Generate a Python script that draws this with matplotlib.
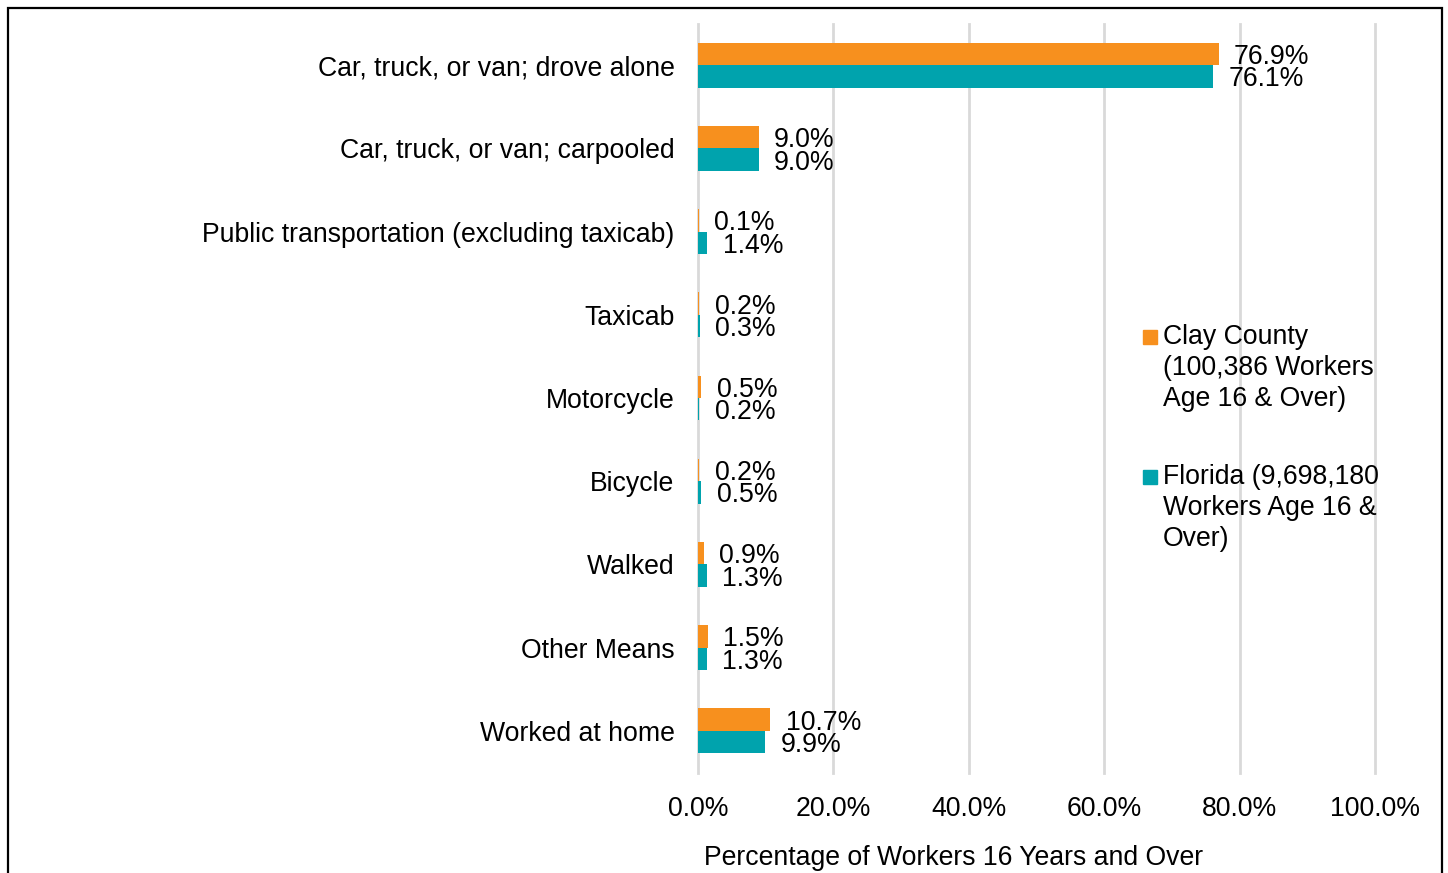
import matplotlib
matplotlib.use("Agg")
import matplotlib.pyplot as plt
from matplotlib.patches import Rectangle
import numpy as np

plt.rcParams['font.family'] = ['Liberation Sans', 'DejaVu Sans']

# ---- data ----
categories = ["Car, truck, or van; drove alone", "Car, truck, or van; carpooled",
              "Public transportation (excluding taxicab)", "Taxicab", "Motorcycle",
              "Bicycle", "Walked", "Other Means", "Worked at home"]
clay = [76.9, 9.0, 0.1, 0.2, 0.5, 0.2, 0.9, 1.5, 10.7]
florida = [76.1, 9.0, 1.4, 0.3, 0.2, 0.5, 1.3, 1.3, 9.9]
series_names = ["Clay County\n(100,386 Workers\nAge 16 & Over)",
                "Florida (9,698,180\nWorkers Age 16 &\nOver)"]
xticks = [0, 20, 40, 60, 80, 100]

ORANGE = "#F7901E"
TEAL = "#00A3AD"
FS = 19.2

W, H = 1448, 873
fig = plt.figure(figsize=(W / 100, H / 100), dpi=100)
ax = fig.add_axes([698 / W, 1 - 772.5 / H, (1375 - 698) / W, (772.5 - 23.5) / H])

y = np.arange(len(categories))
bh = 0.27
ax.barh(y - bh / 2, clay, height=bh, color=ORANGE, zorder=3)
ax.barh(y + bh / 2, florida, height=bh, color=TEAL, zorder=3)

for yi, v in zip(y, clay):
    ax.annotate("%.1f%%" % v, (v, yi - bh / 2), xytext=(11, 0), textcoords="offset points",
                va="center_baseline", ha="left", fontsize=FS)
for yi, v in zip(y, florida):
    ax.annotate("%.1f%%" % v, (v, yi + bh / 2), xytext=(11, 0), textcoords="offset points",
                va="center_baseline", ha="left", fontsize=FS)

ax.set_xlim(0, 100)
ax.set_ylim(len(categories) - 0.5, -0.5)
ax.set_yticks(y)
ax.set_yticklabels(categories, fontsize=FS)
ax.set_xticks(xticks)
ax.set_xticklabels(["%.1f%%" % t for t in xticks], fontsize=FS)
ax.tick_params(axis="both", length=0, pad=17)
ax.grid(axis="x", color="#D9D9D9", linewidth=2, zorder=0)
for gl in ax.xaxis.get_gridlines():
    gl.set_clip_on(False)
for s in ax.spines.values():
    s.set_visible(False)

fig.text(954 / W, 1 - 858 / H, "Percentage of Workers 16 Years and Over",
         ha="center", va="center", fontsize=FS)

# legend drawn by hand so the swatch sits at the first line
for i, (name, col) in enumerate(zip(series_names, [ORANGE, TEAL])):
    cy = [337, 477][i]
    fig.patches.append(Rectangle((1143 / W, 1 - (cy + 7) / H), 14 / W, 14 / H,
                                 transform=fig.transFigure, color=col))
    fig.text(1163 / W, 1 - (cy - 13) / H, name, ha="left", va="top",
             fontsize=FS, linespacing=1.26)

# outer border (bottom edge cut off like the original)
fig.patches.append(Rectangle((7.5 / W, -0.05), (1442 - 7.5) / W, 1 - 8.5 / H + 0.05,
                             transform=fig.transFigure, fill=False, edgecolor="black",
                             linewidth=1.6, clip_on=False))

fig.savefig("out.png", dpi=100)
